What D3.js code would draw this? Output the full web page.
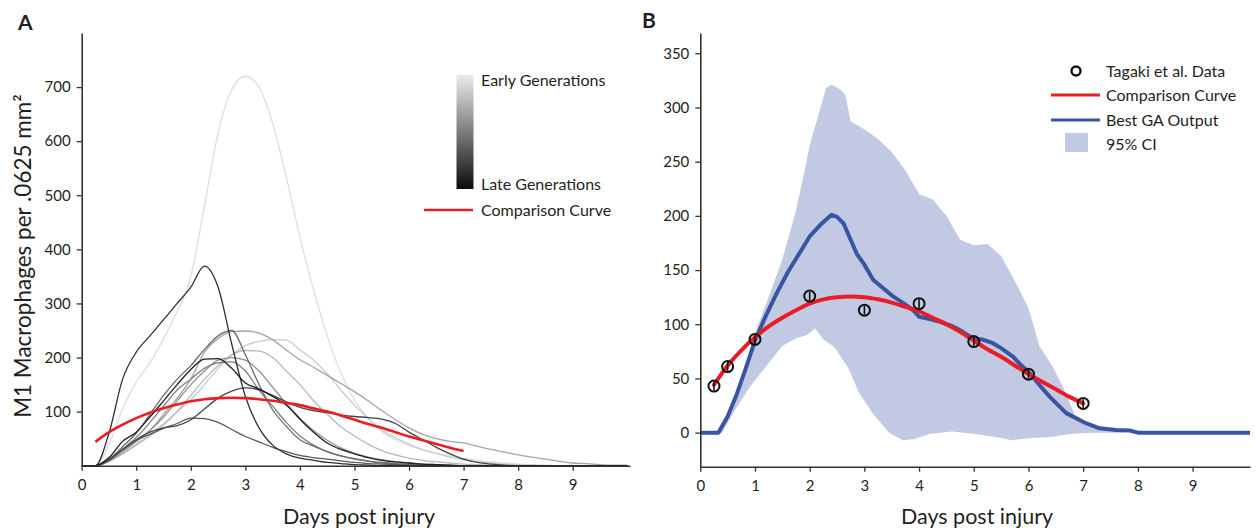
<!DOCTYPE html>
<html><head><meta charset="utf-8">
<script src="https://cdn.jsdelivr.net/npm/d3@7"></script>
<style>
html,body{margin:0;padding:0;background:#fff;}
svg text{font-family:Lato,"Open Sans",sans-serif;fill:#231f20;}
</style></head>
<body><svg id="chart" width="1256" height="531"></svg>
<script>
// ---------------- DATA ----------------
// Panel A: simulated M1 macrophage curves, one per generation (early -> late)
const daysA = [0,0.25,0.5,0.75,1,1.25,1.5,1.75,2,2.25,2.5,2.75,3,3.25,3.5,3.75,4,4.25,4.5,4.75,5,5.25,5.5,5.75,6,6.25,6.5,6.75,7,7.25,7.5,7.75,8,8.25,8.5,8.75,9,9.25,9.5,9.75,10];
const generationIndex = [0,1,2,3,4,5,6,7,8,9,10];
const gen0  = [0,0,40,105,155,190,235,285,350,480,615,695,720,700,633,534,423,325,240,172,122,88,63,48,37,29,23,18,14,10,7,5,3,2,1,0,0,0,0,0,0];
const gen1  = [0,0,8,22,40,58,78,100,122,150,180,205,222,230,233,232,214,195,170,140,112,88,66,52,40,30,23,16,11,7,5,3,2,1,0,0,0,0,0,0,0];
const gen2  = [0,0,8,22,38,55,75,100,130,160,185,205,213,212,200,175,150,120,95,72,55,40,28,20,14,10,7,5,3,2,1,0,0,0,0,0,0,0,0,0,0];
const gen3  = [0,0,8,25,45,65,95,125,160,210,235,248,249,245,233,214,196,182,167,152,137,120,102,85,70,58,50,45,42,36,30,25,20,16,12,8,5,4,2,1,1];
const gen4  = [0,0,10,28,45,65,90,120,150,175,195,200,195,175,145,115,88,65,47,33,23,16,11,7,5,3,2,1,0,0,0,0,0,0,0,0,0,0,0,0,0];
const gen5  = [0,0,10,30,52,80,110,140,160,180,190,192,175,140,110,80,55,38,26,18,12,8,5,3,2,1,0,0,0,0,0,0,0,0,0,0,0,0,0,0,0];
const gen6  = [0,0,12,35,60,95,130,160,185,215,240,250,205,150,103,73,48,36,26,18,13,9,6,4,3,2,1,0,0,0,0,0,0,0,0,0,0,0,0,0,0];
const gen7  = [0,0,12,30,47,58,69,78,88,87,80,67,54,44,34,26,19,15,12,9,6,4,3,2,1,0,0,0,0,0,0,0,0,0,0,0,0,0,0,0,0];
const gen8  = [0,0,10,30,48,62,70,74,85,105,125,138,144,140,130,118,108,102,98,94,91,89,86,78,62,48,34,22,12,6,3,1,0,0,0,0,0,0,0,0,0];
const gen9  = [0,0,60,160,210,240,270,300,330,369,330,225,128,70,38,22,14,10,6,4,2,1,0,0,0,0,0,0,0,0,0,0,0,0,0,0,0,0,0,0,0];
const gen10 = [0,0,15,45,62,90,120,150,178,197,198,180,153,142,128,112,86,62,42,30,22,15,10,7,5,3,2,1,0,0,0,0,0,0,0,0,0,0,0,0,0];
const generationSeries = [gen0,gen1,gen2,gen3,gen4,gen5,gen6,gen7,gen8,gen9,gen10];

// Comparison curve (shared by both panels)
const compDays   = [0.25,0.5,0.75,1,1.25,1.5,1.75,2,2.25,2.5,2.75,3,3.25,3.5,3.75,4,4.25,4.5,4.75,5,5.25,5.5,5.75,6,6.25,6.5,6.75,7];
const compValues = [44,62,76,88,98,106,113,119,123,125,125.5,125,123,120,116,112,106,100,93,85,77,70,62,54,47,40,33,27];

// Panel B: Tagaki et al. data
const tagakiDays   = [0.25,0.5,1,2,3,4,5,6,7];
const tagakiValues = [43,61,86,126,113,119,84,54,27];
const tagakiErr    = [4,4,4,4,4,4,4,4,4];

// Best GA output
const gaDays   = [0,0.33,0.5,0.67,0.85,1.0,1.2,1.4,1.6,1.77,2.0,2.2,2.4,2.5,2.62,2.86,3.0,3.16,3.3,3.53,3.7,3.89,4.0,4.14,4.4,4.62,4.8,4.99,5.15,5.35,5.5,5.72,5.85,6.02,6.2,6.39,6.69,7.05,7.3,7.6,7.85,8.0,10.05];
const gaValues = [0,0,15,36,62,85,108,129,148,162,181,192,201,199,193,165,155,141,135,125.5,120,113,107,105.5,102,98,93,87,86,82.5,78,70,63,55,44,33,18,8.7,4,2.5,2,0,0];

// 95% CI band
const ciUpperDays = [0.35,0.5,0.75,1,1.25,1.5,1.75,1.9,2.0,2.1,2.2,2.3,2.4,2.55,2.65,2.75,3.0,3.25,3.5,3.75,4.0,4.25,4.5,4.75,5.0,5.25,5.5,5.75,6.0,6.2,6.45,6.65,6.85,7.15,7.5,7.8];
const ciUpper     = [0,15,50,92,125,160,205,240,265,283,300,318,321,317,312,287,280,271,259,242,220,215,200,178,173,174,163,140,115,80,60,40,16,7,2,0];
const ciLowerDays = [0.4,0.6,0.9,1.2,1.5,1.75,1.95,2.1,2.25,2.45,2.7,2.9,3.15,3.45,3.7,3.9,4.2,4.6,5.0,5.4,5.7,6.05,6.4,6.8,7.2,7.8];
const ciLower     = [0,18,42,61,80,87,90,96,86,79,60,37,18,0,-7,-6,-1,1,-1,-4,-7,-5,-4,-1,0,0];

// Axis ticks
const xTicks  = [0,1,2,3,4,5,6,7,8,9];
const yTicksA = [100,200,300,400,500,600,700];
const yTicksB = [0,50,100,150,200,250,300,350];

// ---------------- DRAW ----------------
const svg = d3.select("#chart");
const RED = "#ec1c24", BLUE = "#3a54a4", BAND = "#c2c9e2", AXIS = "#333";

function drawAxes(g, x, y, yTicks, xLabel, yLabel, xLabelX, yLabelX, yLabelY) {
  const ax = g.append("g").attr("transform", `translate(0,${y.range()[0]})`)
    .call(d3.axisBottom(x).tickValues(xTicks).tickSize(5).tickPadding(9).tickSizeOuter(0));
  const ay = g.append("g").attr("transform", `translate(${x.range()[0]},0)`)
    .call(d3.axisLeft(y).tickValues(yTicks).tickSize(5).tickPadding(6).tickSizeOuter(0));
  [ax, ay].forEach(a => {
    a.selectAll("path.domain").attr("stroke", AXIS).attr("stroke-width", 1.6);
    a.selectAll(".tick line").attr("stroke", AXIS).attr("stroke-width", 1.3);
    a.selectAll(".tick text").style("font-size", "15px").attr("fill", "#231f20");
  });
  g.append("text").attr("x", xLabelX).attr("y", 524).attr("text-anchor", "middle")
    .style("font-size", "21.5px").text(xLabel);
  if (yLabel) {
    g.append("text").attr("transform", `translate(${yLabelX},${yLabelY}) rotate(-90)`)
      .attr("text-anchor", "middle").style("font-size", "22.5px").text(yLabel);
  }
}

// ----- Panel A -----
const gA = svg.append("g");
const xA = d3.scaleLinear().domain([0, 10.05]).range([81.7, 630]);
const yA = d3.scaleLinear().domain([0, 800]).range([465.7, 33]);
const grayScale = d3.scaleLinear().domain([0, generationIndex.length - 1]).range(["#dedede", "#1e1e1e"]);

const lineA = d3.line().x((d, i) => xA(daysA[i])).y(d => yA(d)).curve(d3.curveMonotoneX);
generationSeries.forEach((s, k) => {
  gA.append("path").attr("d", lineA(s)).attr("fill", "none")
    .attr("stroke", grayScale(generationIndex[k])).attr("stroke-width", 1.3);
});
const compLineA = d3.line().x((d, i) => xA(compDays[i])).y(d => yA(d)).curve(d3.curveMonotoneX);
gA.append("path").attr("d", compLineA(compValues)).attr("fill", "none")
  .attr("stroke", RED).attr("stroke-width", 2.6);

drawAxes(gA, xA, yA, yTicksA, "Days post injury", "M1 Macrophages per .0625 mm²", 359, 31, 256);
gA.append("text").attr("x", 18).attr("y", 30).style("font-size", "21px").style("font-weight", "bold").text("A");

// legend A
const defs = svg.append("defs");
const grad = defs.append("linearGradient").attr("id", "genGrad").attr("x1", 0).attr("y1", 0).attr("x2", 0).attr("y2", 1);
grad.append("stop").attr("offset", "0%").attr("stop-color", "#ececec");
grad.append("stop").attr("offset", "100%").attr("stop-color", "#0c0c0c");
gA.append("rect").attr("x", 456.5).attr("y", 75).attr("width", 17).attr("height", 114).attr("fill", "url(#genGrad)");
gA.append("text").attr("x", 481).attr("y", 86).style("font-size", "16px").text("Early Generations");
gA.append("text").attr("x", 481).attr("y", 190).style("font-size", "16px").text("Late Generations");
gA.append("line").attr("x1", 424).attr("x2", 473).attr("y1", 210).attr("y2", 210).attr("stroke", RED).attr("stroke-width", 2.6);
gA.append("text").attr("x", 481).attr("y", 216).style("font-size", "16px").text("Comparison Curve");

// ----- Panel B -----
const gB = svg.append("g");
const xB = d3.scaleLinear().domain([0, 10.05]).range([700.3, 1250]);
const yB = d3.scaleLinear().domain([-31.4, 368.7]).range([466.7, 33]);

const bandPts = ciUpperDays.map((d, i) => [d, ciUpper[i]])
  .concat(ciLowerDays.map((d, i) => [d, ciLower[i]]).reverse());
gB.append("path").attr("d", d3.line().x(d => xB(d[0])).y(d => yB(d[1]))(bandPts) + "Z")
  .attr("fill", BAND).attr("stroke", "none");

const gaLine = d3.line().x((d, i) => xB(gaDays[i])).y(d => yB(d));
gB.append("path").attr("d", gaLine(gaValues)).attr("fill", "none")
  .attr("stroke", BLUE).attr("stroke-width", 4).attr("stroke-linejoin", "round");

const compLineB = d3.line().x((d, i) => xB(compDays[i])).y(d => yB(d)).curve(d3.curveMonotoneX);
gB.append("path").attr("d", compLineB(compValues)).attr("fill", "none")
  .attr("stroke", RED).attr("stroke-width", 4).attr("stroke-linecap", "round");

const pts = gB.append("g");
tagakiDays.forEach((d, i) => {
  pts.append("line").attr("x1", xB(d)).attr("x2", xB(d))
    .attr("y1", yB(tagakiValues[i] + tagakiErr[i])).attr("y2", yB(tagakiValues[i] - tagakiErr[i]))
    .attr("stroke", "#111").attr("stroke-width", 1.6);
  pts.append("circle").attr("cx", xB(d)).attr("cy", yB(tagakiValues[i])).attr("r", 5.5)
    .attr("fill", "none").attr("stroke", "#111").attr("stroke-width", 2);
});

drawAxes(gB, xB, yB, yTicksB, "Days post injury", null, 977, 0, 0);
gB.append("text").attr("x", 642).attr("y", 28).style("font-size", "21px").style("font-weight", "bold").text("B");

// legend B
gB.append("circle").attr("cx", 1076).attr("cy", 71).attr("r", 4.5).attr("fill", "none").attr("stroke", "#111").attr("stroke-width", 2.4);
gB.append("text").attr("x", 1106).attr("y", 77).style("font-size", "16px").text("Tagaki et al. Data");
gB.append("line").attr("x1", 1051).attr("x2", 1100).attr("y1", 95).attr("y2", 95).attr("stroke", RED).attr("stroke-width", 3);
gB.append("text").attr("x", 1106).attr("y", 101).style("font-size", "16px").text("Comparison Curve");
gB.append("line").attr("x1", 1051).attr("x2", 1100).attr("y1", 120).attr("y2", 120).attr("stroke", BLUE).attr("stroke-width", 3);
gB.append("text").attr("x", 1106).attr("y", 126).style("font-size", "16px").text("Best GA Output");
gB.append("rect").attr("x", 1065).attr("y", 133).attr("width", 23).attr("height", 19).attr("fill", BAND);
gB.append("text").attr("x", 1106).attr("y", 150).style("font-size", "16px").text("95% CI");
</script></body></html>
